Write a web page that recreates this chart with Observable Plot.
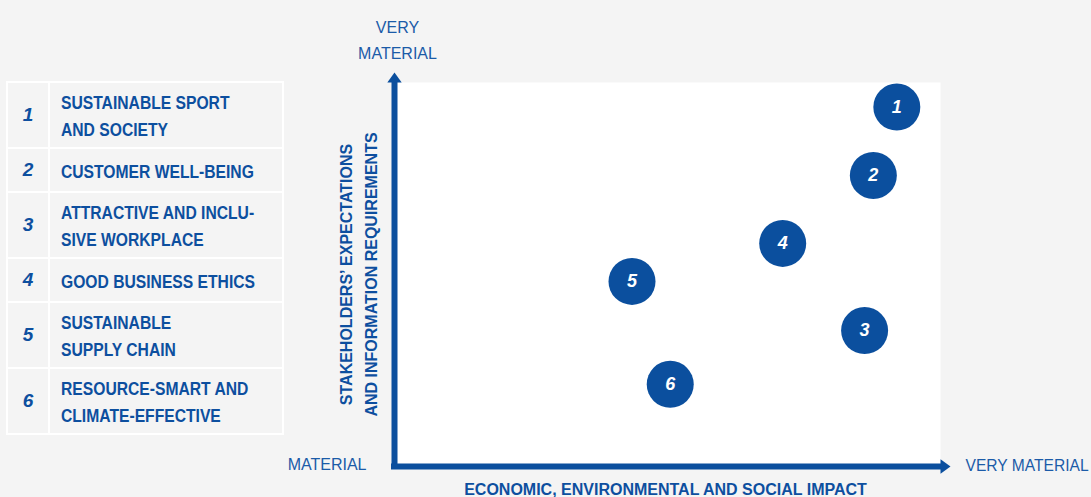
<!DOCTYPE html>
<html><head><meta charset="utf-8">
<script src="https://cdn.jsdelivr.net/npm/d3@7"></script>
<script src="https://cdn.jsdelivr.net/npm/@observablehq/plot@0.6"></script>
<style>
html,body{margin:0;padding:0;background:#f4f4f4;}
#wrap{position:relative;width:1091px;height:497px;overflow:hidden;}
#wrap svg{position:absolute;left:0;top:0;}
#legend{position:absolute;left:6px;top:81px;border-collapse:collapse;table-layout:fixed;width:278px;font-family:"Liberation Sans",sans-serif;}
#legend td{border:2px solid #fff;padding:0;color:#0d4f9f;font-weight:bold;vertical-align:middle;overflow:visible;}
#legend td.num{width:40px;text-align:center;font-style:italic;font-size:19px;}
#legend td.lbl{padding-left:11px;font-size:18px;line-height:27px;white-space:pre;}
#legend td.lbl span{display:inline-block;transform-origin:0 50%;transform:translateY(2px) scaleX(0.87);}
</style></head>
<body><div id="wrap"></div>
<script>
const ids = [1, 2, 3, 4, 5, 6];
const topics = [
  "SUSTAINABLE SPORT\nAND SOCIETY",
  "CUSTOMER WELL-BEING",
  "ATTRACTIVE AND INCLU-\nSIVE WORKPLACE",
  "GOOD BUSINESS ETHICS",
  "SUSTAINABLE\nSUPPLY CHAIN",
  "RESOURCE-SMART AND\nCLIMATE-EFFECTIVE"
];
const impact = [92.0, 87.7, 86.1, 71.1, 43.5, 50.5];
const expectations = [93.6, 75.8, 35.4, 58.1, 48.2, 21.4];
const xTitle = "ECONOMIC, ENVIRONMENTAL AND SOCIAL IMPACT";
const yTitle = "STAKEHOLDERS\u2019 EXPECTATIONS\nAND INFORMATION REQUIREMENTS";
const lowLabel = "MATERIAL";
const highLabelX = "VERY MATERIAL";
const highLabelY = "VERY\nMATERIAL";

const blue = "#0b4f9e";
const textBlue = "#1b5ba8";
const titleBlue = "#0d4f9f";

const data = ids.map((id, i) => ({id, x: impact[i], y: expectations[i]}));

const arrowUp = {draw(ctx, size) {
  const s = Math.sqrt(size / Math.PI);
  ctx.moveTo(0, -s); ctx.lineTo(0.72 * s, 0); ctx.lineTo(-0.72 * s, 0); ctx.closePath();
}};
const arrowRight = {draw(ctx, size) {
  const s = Math.sqrt(size / Math.PI);
  ctx.moveTo(s, 0); ctx.lineTo(0, 0.72 * s); ctx.lineTo(0, -0.72 * s); ctx.closePath();
}};

const chart = Plot.plot({
  width: 1091, height: 497,
  marginLeft: 394, marginRight: 151, marginTop: 82, marginBottom: 31,
  x: {domain: [0, 100], axis: null},
  y: {domain: [0, 100], axis: null},
  style: {background: "transparent", fontFamily: "Liberation Sans, sans-serif", overflow: "visible"},
  marks: [
    Plot.frame({fill: "white", stroke: "none"}),
    Plot.ruleX([0], {y1: 0, y2: 100, stroke: blue, strokeWidth: 6, strokeLinecap: "square"}),
    Plot.ruleY([0], {x1: 0, x2: 100, stroke: blue, strokeWidth: 6, strokeLinecap: "square"}),
    Plot.dot([{x: 0, y: 100}], {x: "x", y: "y", r: 10, symbol: arrowUp, fill: blue, stroke: "none"}),
    Plot.dot([{x: 100, y: 0}], {x: "x", y: "y", r: 10, symbol: arrowRight, fill: blue, stroke: "none"}),
    Plot.dot(data, {x: "x", y: "y", r: 23.5, fill: blue, stroke: "none"}),
    Plot.text(data, {x: "x", y: "y", text: "id", fill: "white", fontSize: 18, fontWeight: "bold", fontStyle: "italic"}),
    Plot.text([highLabelY], {text: d => d, frameAnchor: "top-left", textAnchor: "middle", lineAnchor: "middle", dx: 3, dy: -45, lineHeight: 1.65, fontSize: 16, fill: textBlue}),
    Plot.text([lowLabel], {text: d => d, frameAnchor: "bottom-left", textAnchor: "end", lineAnchor: "middle", dx: -28, dy: -2, fontSize: 16, fill: textBlue}),
    Plot.text([highLabelX], {text: d => d, frameAnchor: "bottom-right", textAnchor: "start", lineAnchor: "middle", dx: 25, dy: -1, fontSize: 15.6, fill: textBlue}),
    Plot.text([xTitle], {text: d => d, frameAnchor: "bottom", textAnchor: "middle", lineAnchor: "middle", dx: -2, dy: 23, fontSize: 16, fontWeight: "bold", fill: titleBlue}),
    Plot.text([yTitle], {text: d => d, frameAnchor: "left", textAnchor: "middle", lineAnchor: "middle", rotate: -90, dx: -38, dy: 0, lineHeight: 1.6, fontSize: 16, fontWeight: "bold", fill: titleBlue})
  ]
});

const wrap = document.getElementById("wrap");
wrap.appendChild(chart);

const table = document.createElement("table");
table.id = "legend";
ids.forEach((id, i) => {
  const tr = document.createElement("tr");
  const lines = topics[i].split("\n").length;
  tr.style.height = (lines === 2 ? 66 : 44) + "px";
  const n = document.createElement("td"); n.className = "num"; n.textContent = id;
  const l = document.createElement("td"); l.className = "lbl";
  const s = document.createElement("span"); s.textContent = topics[i];
  l.appendChild(s);
  tr.appendChild(n); tr.appendChild(l);
  table.appendChild(tr);
});
wrap.appendChild(table);
</script>
</body></html>
